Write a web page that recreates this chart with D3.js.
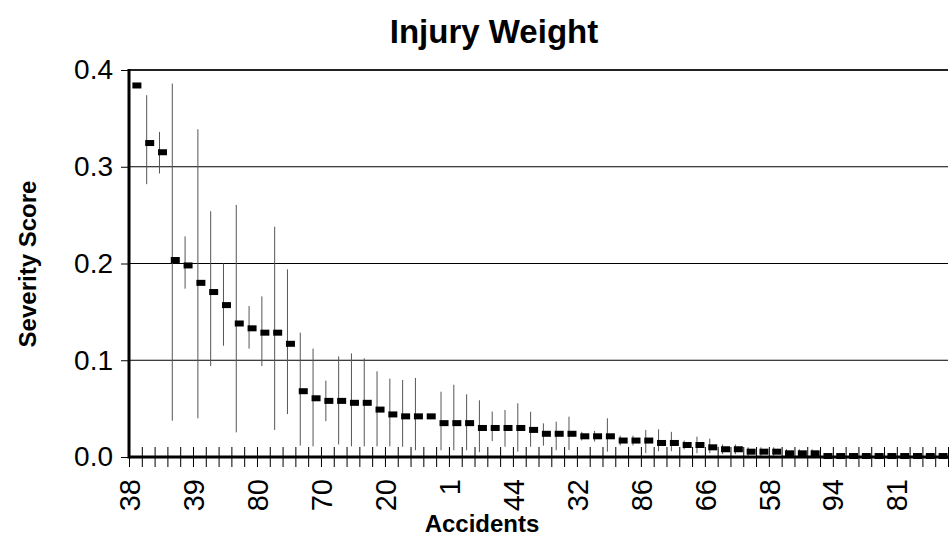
<!DOCTYPE html>
<html>
<head>
<meta charset="utf-8">
<script src="https://cdn.jsdelivr.net/npm/d3@7"></script>
<style>
  html, body { margin: 0; padding: 0; background: #fff; }
  svg { display: block; }
  text { font-family: "Liberation Sans", Arial, sans-serif; fill: #000; }
</style>
</head>
<body>
<svg id="chart" width="950" height="542"></svg>
<script>
// Accidents ranked by mean injury-weight severity score (rank 0 = most severe)
const ranks = [
  0, 1, 2, 3, 4, 5, 6, 7, 8, 9, 10, 11, 12, 13, 14, 15,
  16, 17, 18, 19, 20, 21, 22, 23, 24, 25, 26, 27, 28, 29, 30, 31,
  32, 33, 34, 35, 36, 37, 38, 39, 40, 41, 42, 43, 44, 45, 46, 47,
  48, 49, 50, 51, 52, 53, 54, 55, 56, 57, 58, 59, 60, 61, 62, 63
];

// Accident IDs printed under every fifth rank
const tickRanks  = [0, 5, 10, 15, 20, 25, 30, 35, 40, 45, 50, 55, 60];
const tickLabels = ["38", "39", "80", "70", "20", "1", "44", "32", "86", "66", "58", "94", "81"];

// Mean severity score per accident
const meanScore = [
  0.384, 0.3245, 0.315, 0.2036, 0.198, 0.180, 0.1705, 0.157,
  0.138, 0.133, 0.1285, 0.1285, 0.117, 0.068, 0.0607, 0.058,
  0.058, 0.056, 0.056, 0.049, 0.044, 0.042, 0.042, 0.042,
  0.035, 0.035, 0.035, 0.030, 0.030, 0.030, 0.030, 0.028,
  0.024, 0.024, 0.024, 0.0214, 0.0214, 0.0214, 0.017, 0.017,
  0.017, 0.0145, 0.0145, 0.0124, 0.0124, 0.010, 0.008, 0.008,
  0.0055, 0.0055, 0.0055, 0.0038, 0.0038, 0.0038, 0.001, 0.001,
  0.001, 0.001, 0.001, 0.001, 0.001, 0.001, 0.001, 0.001
];

// Lower / upper ends of the error bars (null = no bar)
const lowScore = [
  null, 0.282, 0.293, 0.0375, 0.174, 0.040, 0.094, 0.115,
  0.0255, 0.112, 0.094, 0.028, 0.0444, 0.0117, 0.011, 0.037,
  0.013, 0.011, 0.011, 0.011, 0.011, 0.0106, 0.007, null,
  0.007, 0.007, 0.007, 0.005, 0.0165, 0.0106, 0.0055, 0.0106,
  0.0117, 0.007, 0.0072, 0.017, 0.016, 0.0055, 0.012, 0.012,
  0.004, 0.006, 0.006, 0.008, 0.004, 0.004, 0.003, 0.003,
  0.001, 0.001, 0.001, 0.000, 0.000, 0.000, 0.000, 0.000,
  0.000, 0.000, 0.000, 0.000, 0.000, 0.000, 0.000, 0.000
];
const highScore = [
  null, 0.374, 0.336, 0.386, 0.228, 0.3387, 0.254, 0.200,
  0.2605, 0.156, 0.166, 0.238, 0.194, 0.1285, 0.112, 0.079,
  0.104, 0.107, 0.102, 0.0886, 0.081, 0.0796, 0.0817, null,
  0.0675, 0.0747, 0.0648, 0.0586, 0.047, 0.0486, 0.0555, 0.0468,
  0.0348, 0.0365, 0.0417, 0.026, 0.027, 0.040, 0.022, 0.022,
  0.028, 0.0286, 0.026, 0.017, 0.021, 0.019, 0.013, 0.013,
  0.010, 0.010, 0.010, 0.008, 0.008, 0.008, 0.004, 0.004,
  0.004, 0.004, 0.004, 0.004, 0.004, 0.004, 0.004, 0.004
];

const yTicks = [0, 0.1, 0.2, 0.3, 0.4];

const svg = d3.select("#chart");
const plotLeft = 129, plotRight = 948, plotTop = 70, plotBottom = 457;

// Category slots run between integer boundaries; slot i spans [i, i+1]
const x = d3.scaleLinear().domain([0, ranks.length]).range([plotLeft, plotRight]);
const y = d3.scaleLinear().domain([0, 0.4]).range([plotBottom, plotTop]);

// Title
svg.append("text")
  .attr("x", 494).attr("y", 43)
  .attr("text-anchor", "middle")
  .style("font-size", "33px").style("font-weight", "bold")
  .text("Injury Weight");

// Horizontal gridlines
svg.append("g")
  .selectAll("line")
  .data(yTicks.filter(d => d > 0 && d < 0.4))
  .join("line")
  .attr("x1", plotLeft).attr("x2", plotRight)
  .attr("y1", d => y(d)).attr("y2", d => y(d))
  .attr("stroke", "#000").attr("stroke-width", 1);

// Top frame line at 0.4
svg.append("line")
  .attr("x1", plotLeft).attr("x2", plotRight)
  .attr("y1", y(0.4)).attr("y2", y(0.4))
  .attr("stroke", "#222").attr("stroke-width", 2);

// Y axis
const yAxis = svg.append("g")
  .attr("transform", `translate(${plotLeft},0)`)
  .call(d3.axisLeft(y).tickValues(yTicks).tickFormat(d3.format(".1f")).tickSize(8).tickPadding(8));
yAxis.select(".domain").remove();
yAxis.selectAll(".tick line").attr("stroke", "#000").attr("stroke-width", 1);
yAxis.selectAll("text").style("font-size", "28px").attr("fill", "#000");

// Error bars
const bars = ranks.filter(i => lowScore[i] !== null);
svg.append("g")
  .selectAll("line")
  .data(bars)
  .join("line")
  .attr("x1", i => x(i + 0.5) - 1.5).attr("x2", i => x(i + 0.5) - 1.5)
  .attr("y1", i => y(lowScore[i])).attr("y2", i => y(highScore[i]))
  .attr("stroke", "#555").attr("stroke-width", 1);

// X axis: tick marks crossing the axis at every slot boundary
const xMarks = svg.append("g")
  .attr("transform", `translate(0,${plotBottom + 10})`)
  .call(d3.axisBottom(x).tickValues(d3.range(0, ranks.length + 1)).tickSize(20).tickFormat(""));
xMarks.select(".domain").remove();
xMarks.selectAll(".tick line").attr("y1", -20).attr("y2", 0).attr("stroke", "#000").attr("stroke-width", 1);

// X axis: accident labels on every fifth slot
const xLabels = svg.append("g")
  .attr("transform", `translate(0,${plotBottom})`)
  .call(d3.axisBottom(x).tickValues(tickRanks).tickSize(0)
        .tickFormat((d, k) => tickLabels[k]));
xLabels.select(".domain").remove();
xLabels.selectAll("text")
  .attr("transform", "rotate(-90)")
  .attr("text-anchor", "end")
  .attr("x", -22).attr("y", 0).attr("dy", "0.35em")
  .style("font-size", "29px").attr("fill", "#000");

// Axis lines
svg.append("line")
  .attr("x1", plotLeft).attr("x2", plotRight).attr("y1", plotBottom).attr("y2", plotBottom)
  .attr("stroke", "#000").attr("stroke-width", 3);
svg.append("line")
  .attr("x1", plotLeft).attr("x2", plotLeft).attr("y1", plotTop - 1).attr("y2", plotBottom + 1.5)
  .attr("stroke", "#000").attr("stroke-width", 3);

// Mean markers
svg.append("g")
  .selectAll("rect")
  .data(ranks)
  .join("rect")
  .attr("x", i => x(i + 0.5) + 1.5 - 4.5)
  .attr("y", i => y(meanScore[i]) - 3)
  .attr("width", 9).attr("height", 6)
  .attr("fill", "#000");

// Axis titles
svg.append("text")
  .attr("transform", "translate(36,264) rotate(-90)")
  .attr("text-anchor", "middle")
  .style("font-size", "24px").style("font-weight", "bold")
  .text("Severity Score");

svg.append("text")
  .attr("x", 482).attr("y", 532)
  .attr("text-anchor", "middle")
  .style("font-size", "24px").style("font-weight", "bold")
  .text("Accidents");
</script>
</body>
</html>
